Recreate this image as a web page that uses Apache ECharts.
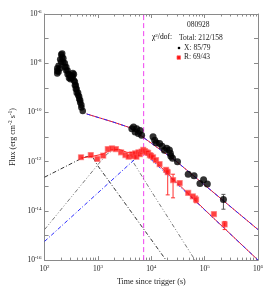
<!DOCTYPE html>
<html><head><meta charset="utf-8">
<script src="https://cdn.jsdelivr.net/npm/echarts@6/dist/echarts.min.js"></script>
<style>html,body{margin:0;padding:0;background:#fff}#c{width:270px;height:291px}</style>
</head><body><div id="c"></div>
<script>
// ---- axes / ticks ----
const xMin = 100, xMax = 1e6;
const yMin = 1e-16, yMax = 1e-6;
const xDecades = [100, 1000, 10000, 100000];
const minorMultipliers = [2, 3, 4, 5, 6, 7, 8, 9];
const burstLabel = '080928';
const chiLines = ['Total: 212/158', 'X: 85/79', 'R: 69/43'];
const peakTime = 7200;

// ---- X-ray data (black) ----
const xrtFlare = [
  [173,4.79e-9],[173,6.31e-9],[173,3.8e-9],[183,7.94e-9],[183,4.47e-9],[196,1.41e-8],[196,6.31e-9],
  [205,2.24e-8],[205,1.12e-8],[214,2.51e-8],[214,1.78e-8],[225,1.58e-8],[225,1.12e-8],
  [240,1.0e-8],[240,7.08e-9],[255,7.08e-9],[255,5.01e-9],[270,5.01e-9],[270,3.55e-9],
  [287,3.55e-9],[287,2.51e-9],[305,2.82e-9],[305,2.24e-9],[321,2.51e-9],[321,3.16e-9],
  [339,3.98e-9],[339,2.82e-9],[355,3.55e-9],[355,2.0e-9],[370,1.78e-9],[370,1.26e-9],
  [385,1.26e-9],[385,8.91e-10],[400,8.91e-10],[400,6.31e-10],[425,6.31e-10],[425,5.01e-10],
  [445,4.47e-10],[445,3.55e-10],[465,3.16e-10],[465,2.51e-10],[490,2.0e-10],[490,1.58e-10],
  [520,1.15e-10]
];
const xrtLate = [
  [4325,2.19e-11],[4645,2.57e-11],[4989,1.62e-11],[5333,2.19e-11],[5728,1.38e-11],[6152,1.86e-11],
  [6592,1.17e-11],[10790,1.02e-11],[11590,7.41e-12],[12390,5.89e-12],[14320,5.5e-12],[15960,4.27e-12],
  [17660,2.88e-12],[19450,3.47e-12],[21830,2.95e-12],[22750,2.19e-12],[23330,1.66e-12],[25060,1.38e-12],
  [30970,1.0e-12],[49200,3.09e-13],[63390,2.69e-13],[81660,1.29e-13],[95500,1.86e-13],[112200,1.23e-13],
  [224900,2.88e-14]
];
const xrtErrors = [[224900,1.17e-14,4.68e-14]];

// ---- optical R data (red) ----
const rBand = [
  [482,1.51e-12],[735,1.86e-12],[975,1.29e-12],[1256,1.76e-12],[1531,3.24e-12],[1836,3.47e-12],
  [2173,3.24e-12],[2716,2.4e-12],[3273,1.86e-12],[3758,1.58e-12],[4325,2.0e-12],[4645,1.66e-12],
  [4989,2.19e-12],[5272,1.58e-12],[5728,2.4e-12],[6109,2.0e-12],[6592,2.57e-12],[7080,3.02e-12],
  [7606,2.69e-12],[8134,2.4e-12],[8730,2.29e-12],[9390,1.86e-12],[9910,1.74e-12],[10790,1.51e-12],
  [12250,1.15e-12],[14320,7.94e-13],[18920,4.68e-13],[20320,3.72e-13],[25590,1.78e-13],[34120,1.35e-13],
  [49200,5.37e-14],[60010,3.89e-14],[69020,2.88e-14],[149300,7.41e-15],[237100,2.82e-15]
];
const rErrors = [
  [20320,4.47e-14,4.9e-13],[25590,3.39e-14,3.09e-13],[69020,2.14e-14,3.98e-14],[237100,1.74e-15,3.72e-15]
];

// ---- model curves ----
const xModel = [[614,8.7e-11],[2000,3.98e-11],[4000,2.4e-11],[10000,5.62e-12],[30000,1.0e-12],[100000,1.12e-13],[1e6,1.74e-15]];
const rModel = [[480,1.41e-12],[800,1.66e-12],[1200,2.0e-12],[1800,3.02e-12],[2500,3.16e-12],[3500,2.4e-12],[5000,2.24e-12],[7000,2.63e-12],[10000,1.41e-12],[20000,3.39e-13],[100000,1.12e-14],[1e6,1e-16]];
const compA = [[100,2.34e-13],[450,1.23e-12],[600,1.58e-12],[700,1.66e-12],[820,1.41e-12],[975,7.24e-13],[2800,3.09e-14],[18900,1e-16]];
const compB = [[100,1.74e-15],[1000,7.59e-13],[1500,2.09e-12],[2000,3.02e-12],[2600,3.16e-12],[3300,2.4e-12],[4100,1.41e-12],[10000,6.31e-14],[66000,1e-16]];
const compC = [[100,5.75e-16],[7000,2.51e-12],[1e6,1e-16]];

// ---- rendering ----
const serif = '"Liberation Serif","DejaVu Serif",serif';
const axisCol = '#8a8a8a';
const txtCol = '#1a1a1a';
const fs = 7.5;
const supRich = {
  b: {fontFamily: serif, fontSize: fs, color: txtCol, lineHeight: 10},
  s: {fontFamily: serif, fontSize: 5, color: txtCol, verticalAlign: 'top', lineHeight: 10, padding: [0,0,3,0]}
};
const expOf = v => Math.round(Math.log10(v));

const minorX = [];
xDecades.forEach(d => minorMultipliers.forEach(m => minorX.push([d * m, 1e-11])));

function axisCommon(extra) {
  return Object.assign({
    type: 'log', logBase: 10,
    axisLine: {show: true, lineStyle: {color: axisCol, width: 1}},
    axisTick: {show: true, inside: true, length: 4, lineStyle: {color: axisCol}},
    splitLine: {show: false}, minorTick: {show: false}
  }, extra);
}
function errRender(color) {
  return (p, api) => {
    const lo = api.coord([api.value(0), api.value(1)]), hi = api.coord([api.value(0), api.value(2)]);
    const x = lo[0], st = {stroke: color, lineWidth: 1};
    return {type: 'group', children: [
      {type: 'line', shape: {x1: x, y1: lo[1], x2: x, y2: hi[1]}, style: st},
      {type: 'line', shape: {x1: x - 2, y1: lo[1], x2: x + 2, y2: lo[1]}, style: st},
      {type: 'line', shape: {x1: x - 2, y1: hi[1], x2: x + 2, y2: hi[1]}, style: st}
    ]};
  };
}
const legendFont = fs + 'px ' + serif;

const chart = echarts.init(document.getElementById('c'), null, {renderer: 'canvas'});
const option = {
  animation: false,
  backgroundColor: '#fff',
  grid: {left: 39, top: 14, right: 12, bottom: 27.5},
  xAxis: [
    axisCommon({min: xMin, max: xMax, splitNumber: 4, interval: 1, position: 'bottom',
      axisLabel: {show: true, margin: 4, showMinLabel: true, showMaxLabel: true,
        formatter: v => '{b|10}{s|' + expOf(v) + '}', rich: supRich},
      name: 'Time since trigger (s)', nameLocation: 'middle', nameGap: 15,
      nameTextStyle: {fontFamily: serif, fontSize: 8, color: txtCol}}),
    axisCommon({min: xMin, max: xMax, splitNumber: 4, interval: 1, position: 'top', axisLabel: {show: false}})
  ],
  yAxis: [
    axisCommon({min: yMin, max: yMax, splitNumber: 10, interval: 1, position: 'left',
      axisLabel: {show: true, margin: 3, showMinLabel: true, showMaxLabel: true,
        formatter: v => { const e = expOf(v); return (e % 2 === 0) ? '{b|10}{s|' + e + '}' : ''; },
        rich: supRich},
      name: 'Flux (erg cm{s|-2} s{s|-1})', nameLocation: 'middle', nameGap: 22,
      nameTextStyle: {fontFamily: serif, fontSize: 8, color: txtCol,
        rich: {s: {fontFamily: serif, fontSize: 5.5, color: txtCol, verticalAlign: 'top', padding: [0,0,3,0]}}}}),
    axisCommon({min: yMin, max: yMax, splitNumber: 10, interval: 1, position: 'right', axisLabel: {show: false}})
  ],
  series: [
    {type: 'custom', name: 'minorTicks', clip: false, silent: true, data: minorX, encode: {x: 0, y: 1},
      renderItem: (p, api) => {
        const t = api.value(0);
        const b = api.coord([t, yMin]), tp = api.coord([t, yMax]);
        const x = Math.round(b[0]) + 0.5;
        return {type: 'group', children: [
          {type: 'line', shape: {x1: x, y1: b[1], x2: x, y2: b[1] - 2.5}, style: {stroke: axisCol, lineWidth: 1}},
          {type: 'line', shape: {x1: x, y1: tp[1], x2: x, y2: tp[1] + 2.5}, style: {stroke: axisCol, lineWidth: 1}}
        ]};
      }},
    {type: 'line', name: 'peak', data: [[peakTime, yMin], [peakTime, yMax]], showSymbol: false, silent: true, z: 2,
      lineStyle: {color: '#f040f0', width: 1, type: [5, 3]}},
    {type: 'line', name: 'compA', data: compA, showSymbol: false, silent: true, z: 2,
      lineStyle: {color: '#333', width: 1, type: [4, 2, 1, 2]}},
    {type: 'line', name: 'compB', data: compB, showSymbol: false, silent: true, z: 2,
      lineStyle: {color: '#777', width: 1, type: [4, 2, 1, 2, 1, 2]}},
    {type: 'line', name: 'rModel', data: rModel, showSymbol: false, silent: true, z: 3,
      lineStyle: {color: '#ff2020', width: 1}},
    {type: 'line', name: 'compC', data: compC, showSymbol: false, silent: true, z: 4,
      lineStyle: {color: '#2a2aff', width: 1, type: [4, 2, 1, 2]}},
    {type: 'line', name: 'xModel', data: xModel, showSymbol: false, silent: true, z: 3,
      lineStyle: {color: '#ff2020', width: 1}},
    {type: 'line', name: 'xComp', data: xModel, showSymbol: false, silent: true, z: 4,
      lineStyle: {color: '#2a2aff', width: 1, type: [4, 2, 1, 2]}},
    {type: 'custom', name: 'rErr', data: rErrors, clip: false, silent: true, z: 5, encode: {x: 0, y: [1, 2]},
      renderItem: errRender('#ff3030')},
    {type: 'custom', name: 'xErr', data: xrtErrors, clip: false, silent: true, z: 5, encode: {x: 0, y: [1, 2]},
      renderItem: errRender('#555')},
    {type: 'scatter', name: 'R', data: rBand, symbol: 'rect', symbolSize: 5, z: 6, silent: true,
      itemStyle: {color: '#ff1010', borderColor: 'rgba(255,90,90,0.7)', borderWidth: 1.2}},
    {type: 'scatter', name: 'X flare', data: xrtFlare, symbol: 'circle', symbolSize: 6.5, z: 6, silent: true,
      itemStyle: {color: '#000'}},
    {type: 'scatter', name: 'X', data: xrtLate, symbol: 'circle', symbolSize: 7, z: 6, silent: true,
      itemStyle: {color: '#000'}}
  ],
  graphic: [
    {type: 'text', left: 187, top: 21, style: {text: burstLabel, font: legendFont, fill: txtCol}},
    {type: 'text', left: 152, top: 33.5, style: {text: '{a|χ}{s|2}{a|/dof:}',
      rich: {a: {fontFamily: serif, fontSize: fs, color: txtCol}, s: {fontFamily: serif, fontSize: 5, color: txtCol, verticalAlign: 'top', padding: [0,0,3,0]}}}},
    {type: 'text', left: 179, top: 34, style: {text: chiLines[0], font: legendFont, fill: txtCol}},
    {type: 'circle', shape: {cx: 179, cy: 48, r: 1.3}, style: {fill: '#000'}},
    {type: 'text', left: 184, top: 44, style: {text: chiLines[1], font: legendFont, fill: txtCol}},
    {type: 'rect', shape: {x: 177, y: 55.8, width: 3.5, height: 3.5}, style: {fill: '#ff1010', stroke: 'rgba(255,90,90,0.7)', lineWidth: 1}},
    {type: 'text', left: 184, top: 53.5, style: {text: chiLines[2], font: legendFont, fill: txtCol}}
  ]
};
chart.setOption(option);
</script>
</body></html>
